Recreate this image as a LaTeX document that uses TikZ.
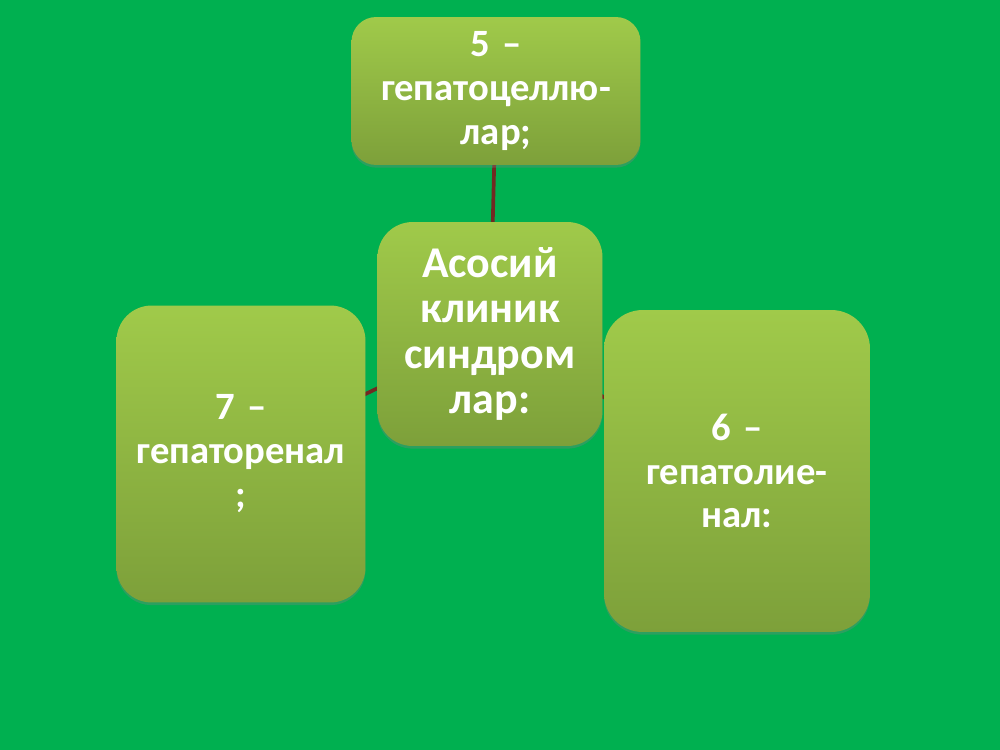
\documentclass[tikz,border=0pt]{standalone}
\usepackage{fontspec}
\setmainfont{Carlito}
\usetikzlibrary{shadows}
\definecolor{slidegreen}{HTML}{00B050}
\definecolor{boxtop}{HTML}{A0CA4A}
\definecolor{boxbottom}{HTML}{7DA03A}
\definecolor{linkred}{HTML}{722A22}
\tikzset{
  every picture/.style={
    x=0.02cm, y=-0.02cm
  },
  syndrome/.style={
    rounded corners=14pt, inner sep=0pt,
    top color=boxtop, bottom color=boxbottom,
    drop shadow={opacity=0.35, shadow xshift=0pt, shadow yshift=-1.5pt},
    text=white, align=center, text width=150pt,
    font=\bfseries\fontsize{22}{25}\selectfont
  },
  link/.style={
    draw=linkred, line width=2.1pt
  }
}

\begin{document}
\begin{tikzpicture}
      \fill [slidegreen] (0,0) rectangle (1000,750);
      \useasboundingbox (0,0) rectangle (1000,750);
      % centre box and the three around it
      \coordinate (c) at (490,334);
      \coordinate (t) at (496,91);
      \coordinate (l) at (241,454);
      \coordinate (r) at (737,471);
      \draw [link] (c) -- (t);
      \draw [link] (c) -- (l);
      \draw [link] (c) -- (r);
      \node [syndrome, minimum width=5.78cm, minimum height=2.96cm]
        (top) at (t) {5 –\\гепатоцеллю-\\лар;};
      \node [syndrome, minimum width=4.98cm, minimum height=5.94cm,
        rounded corners=20pt, text width=135pt]
        (left) at (l) {7 –\\гепаторенал\\;};
      \node [syndrome, minimum width=5.32cm, minimum height=6.44cm,
        rounded corners=22pt]
        (right) at (r) {6 –\\гепатолие-\\нал:};
      \node [syndrome, minimum width=4.5cm, minimum height=4.48cm,
        rounded corners=20pt, text width=120pt,
        font=\bfseries\fontsize{25}{25.8}\selectfont]
        (centre) at (c) {Асосий\\клиник\\синдром\\лар:};
\end{tikzpicture}
\end{document}
